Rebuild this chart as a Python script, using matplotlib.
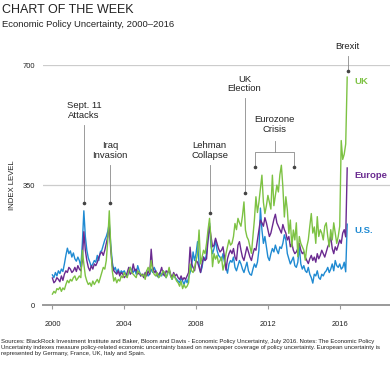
import numpy as np
import matplotlib
matplotlib.use("Agg")
import matplotlib.pyplot as plt

plt.rcParams["font.family"] = ["Liberation Sans", "DejaVu Sans"]

# monthly index values, Jan 2000 - Jun 2016
us = [
    88, 80, 95, 85, 100, 92, 105, 98, 120, 145, 166, 150,
    158, 140, 152, 135, 128, 140, 130, 112, 180, 275, 200, 160,
    137, 125, 112, 120, 130, 125, 145, 130, 155, 160, 175, 190,
    200, 215, 239, 175, 125, 102, 110, 95, 105, 90, 100, 95,
    100, 90, 85, 95, 110, 100, 95, 105, 90, 115, 100, 85,
    90, 85, 80, 100, 85, 90, 105, 95, 110, 100, 85, 80,
    95, 85, 100, 90, 80, 95, 100, 85, 75, 90, 80, 75,
    70, 65, 80, 70, 60, 75, 65, 80, 95, 110, 155, 130,
    150, 185, 120, 95, 110, 140, 130, 150, 200, 239, 170, 150,
    165, 190, 160, 145, 140, 130, 150, 125, 110, 93, 120, 130,
    125, 140, 110, 100, 115, 130, 120, 105, 95, 110, 125, 100,
    90, 87, 105, 120, 110, 125, 160, 283, 220, 180, 200, 170,
    140, 130, 150, 165, 155, 175, 160, 150, 170, 165, 180, 205,
    190, 150, 135, 120, 130, 140, 115, 110, 125, 170, 120, 105,
    115, 100, 95, 110, 90, 80, 64, 90, 85, 100, 80, 75,
    90, 85, 95, 100, 110, 95, 105, 120, 100, 130, 115, 110,
    120, 105, 110, 125, 97, 236,
]

europe = [
    79, 65, 70, 80, 75, 68, 85, 72, 90, 100, 95, 110,
    105, 95, 100, 110, 98, 115, 105, 100, 130, 214, 160, 130,
    110, 100, 115, 105, 120, 115, 125, 140, 150, 155, 145, 160,
    180, 200, 228, 160, 115, 100, 95, 90, 100, 85, 95, 90,
    80, 85, 95, 110, 90, 95, 120, 100, 105, 90, 95, 85,
    90, 80, 95, 85, 100, 90, 163, 110, 95, 100, 85, 90,
    95, 110, 90, 85, 100, 95, 105, 90, 80, 95, 85, 90,
    80, 75, 85, 73, 80, 75, 85, 95, 169, 120, 110, 100,
    130, 125, 110, 95, 120, 140, 130, 135, 190, 230, 200, 170,
    175, 195, 180, 165, 155, 160, 170, 140, 102, 135, 150, 160,
    150, 165, 140, 130, 175, 185, 160, 140, 130, 150, 170, 155,
    140, 130, 150, 165, 160, 190, 220, 248, 240, 230, 255, 240,
    220, 200, 210, 230, 250, 265, 240, 230, 220, 210, 235, 220,
    210, 190, 200, 170, 180, 160, 150, 155, 165, 180, 160, 150,
    155, 140, 130, 121, 135, 145, 130, 140, 125, 150, 135, 145,
    160, 150, 140, 155, 170, 180, 200, 165, 150, 170, 160, 175,
    190, 180, 210, 220, 199, 400,
]

uk = [
    32, 40, 35, 48, 45, 52, 40, 50, 45, 60, 72, 65,
    75, 70, 80, 85, 72, 78, 85, 80, 160, 120, 85, 70,
    60, 65, 55, 70, 60, 68, 75, 65, 80, 95, 110, 105,
    130, 190, 275, 170, 100, 70, 80, 65, 75, 70, 85, 80,
    95, 85, 80, 100, 110, 95, 90, 85, 80, 100, 95, 90,
    85, 90, 75, 100, 110, 95, 130, 100, 90, 85, 95, 80,
    85, 90, 100, 95, 80, 90, 110, 85, 75, 90, 80, 70,
    65, 55, 70, 48, 60, 50, 55, 65, 120, 100, 95, 110,
    130, 150, 219, 120, 140, 160, 150, 180, 220, 253, 190, 112,
    150, 134, 145, 122, 130, 140, 102, 120, 150, 170, 190, 175,
    180, 200, 238, 220, 253, 240, 230, 260, 301, 219, 199, 190,
    170, 151, 200, 250, 316, 270, 300, 340, 379, 300, 267, 290,
    320, 300, 280, 379, 290, 320, 350, 330, 380, 408, 345, 257,
    316, 277, 209, 248, 170, 219, 190, 240, 141, 200, 180, 170,
    160, 131, 170, 190, 230, 267, 210, 228, 180, 258, 200, 220,
    210, 190, 230, 240, 200, 170, 220, 190, 240, 210, 180, 200,
    230, 480, 425, 440, 470, 665,
]

series_names = ["U.S.", "Europe", "UK"]
series_colors = ["#1f8ad2", "#6a2a90", "#7dc243"]
label_values = [219, 379, 651]

year_ticks = [2000, 2004, 2008, 2012, 2016]
y_ticks = [0, 350, 700]

# event annotations: text, x (year), dot level, text level
events = [
    ("Sept. 11\nAttacks", 2001.75, 298, 540),
    ("Iraq\nInvasion", 2003.2, 298, 423),
    ("Lehman\nCollapse", 2008.75, 268, 423),
    ("UK\nElection", 2010.7, 328, 618),
    ("Brexit", 2016.45, 683, 742),
]

months = 2000 + np.arange(len(us)) / 12.0

fig = plt.figure(figsize=(3.9, 3.68), dpi=100)
ax = fig.add_axes([0.110, 0.171, 0.89, 0.652])

for vals, name, col in zip([us, europe, uk], series_names, series_colors):
    ax.plot(months, vals, color=col, lw=1.0, zorder=3)

for name, col, lv in zip(series_names, series_colors, label_values):
    ax.text(2016.8, lv, name, color=col, fontsize=6.8, fontweight="bold",
            va="center", ha="left")

ax.set_xlim(1999.47, 2018.8)
ax.set_ylim(0, 700)

for yv in y_ticks[1:]:
    ax.axhline(yv, color="#cccccc", lw=0.9, zorder=1)

for s in ["top", "right", "left"]:
    ax.spines[s].set_visible(False)
ax.spines["bottom"].set_color("#9a9a9a")
ax.spines["bottom"].set_linewidth(1.4)

ax.set_xticks(year_ticks)
ax.set_xticklabels([str(y) for y in year_ticks])
ax.set_yticks(y_ticks)
ax.tick_params(axis="x", colors="#9a9a9a", length=3, width=0.8, pad=8.5,
               labelsize=5.4, labelcolor="#222222")
ax.tick_params(axis="y", length=0, pad=5.5, labelsize=5.4, labelcolor="#222222")
ax.set_ylabel("INDEX LEVEL", fontsize=5.6, color="#222222", labelpad=5)

line_col = "#8a8a8a"
for txt, xv, dot, ty in events:
    ax.plot([xv, xv], [dot, ty - 14], color=line_col, lw=0.6, clip_on=False, zorder=2)
    ax.plot([xv], [dot], "o", color="#444444", ms=1.6, clip_on=False, zorder=2)
    ax.text(xv, ty, txt, fontsize=6.8, color="#222222", ha="center",
            va="bottom", linespacing=1.1, clip_on=False)

# eurozone crisis bracket
ez_left, ez_right, ez_dot = 2011.3, 2013.45, 402
ez_mid = (ez_left + ez_right) / 2
ax.plot([ez_left, ez_left, ez_right, ez_right], [ez_dot, 448, 448, ez_dot],
        color=line_col, lw=0.6, clip_on=False, zorder=2)
ax.plot([ez_mid, ez_mid], [448, 478], color=line_col, lw=0.6, clip_on=False)
ax.plot([ez_left, ez_right], [ez_dot, ez_dot], "o", color="#444444", ms=1.6,
        clip_on=False, zorder=2)
ax.text(ez_mid, 500, "Eurozone\nCrisis", fontsize=6.8, color="#222222",
        ha="center", va="bottom", linespacing=1.1)

fig.text(0.005, 0.99, "CHART OF THE WEEK", fontsize=9.0, color="#222222",
         va="top", ha="left")
fig.text(0.005, 0.945, "Economic Policy Uncertainty, 2000\u20132016", fontsize=6.8,
         color="#222222", va="top", ha="left")

note = ("Sources: BlackRock Investment Institute and Baker, Bloom and Davis - Economic Policy "
        "Uncertainty, July 2016. Notes: The Economic Policy\n"
        "Uncertainty indexes measure policy-related economic uncertainty based on newspaper "
        "coverage of policy uncertainty. European uncertainty is\n"
        "represented by Germany, France, UK, Italy and Spain.")
fig.text(0.003, 0.08, note, fontsize=4.3, color="#222222", va="top", ha="left",
         linespacing=1.35)

fig.savefig("out.png", dpi=100)
